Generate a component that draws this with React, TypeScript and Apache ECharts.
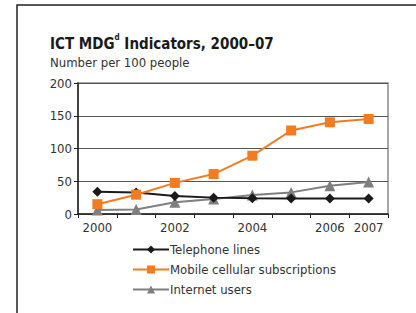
import React, { useEffect, useRef } from "react";
import * as echarts from "echarts";

const years = ["2000", "2001", "2002", "2003", "2004", "2005", "2006", "2007"];
const shownYears = ["2000", "2002", "2004", "2006", "2007"];
const telephone = [34, 33, 27.5, 25, 24, 23.5, 23.5, 23.5];
const mobile = [15, 29.5, 47.5, 61, 89, 127.5, 140, 145];
const internet = [6, 7, 18, 23, 29, 33, 43, 49];
const yTicks = [0, 50, 100, 150, 200];

const FONT = "'Liberation Sans Narrow', 'DejaVu Sans Condensed', 'Roboto Condensed', sans-serif";

export default function App() {
  const ref = useRef<HTMLDivElement>(null);
  useEffect(() => {
    if (!ref.current) return;
    const chart = echarts.init(ref.current, null, { renderer: "svg" });
    chart.setOption({
      animation: false,
      backgroundColor: "#fff",
      textStyle: { fontFamily: FONT },
      graphic: [
        {
          type: "rect",
          shape: { x: 17, y: 5, width: 405, height: 330 },
          style: { fill: "none", stroke: "#222", lineWidth: 1.5 },
          silent: true,
        },
        {
          type: "text",
          left: 50,
          top: 33,
          style: {
            text: "{b|ICT MDG}{s|d}{b| Indicators, 2000–07}",
            rich: {
              b: { fontFamily: FONT, fontWeight: "bold", fontSize: 15, fill: "#1a1a1a", verticalAlign: "bottom", lineHeight: 18 },
              s: { fontFamily: FONT, fontWeight: "bold", fontSize: 8, fill: "#1a1a1a", verticalAlign: "top", lineHeight: 18 },
            },
          },
        },
        {
          type: "text",
          left: 50,
          top: 56,
          style: { text: "Number per 100 people", fontFamily: FONT, fontSize: 13, fill: "#333" },
        },
      ],
      grid: {
        left: 78,
        top: 83,
        right: 28,
        bottom: 99,
        show: true,
        borderColor: "#8a8a8a",
        borderWidth: 1.5,
      },
      legend: {
        orient: "vertical",
        left: 127,
        top: 238,
        itemWidth: 36,
        itemHeight: 10,
        itemGap: 7,
        textStyle: { fontFamily: FONT, fontSize: 13, color: "#333", padding: [0, 0, 0, -4] },
        data: ["Telephone lines", "Mobile cellular subscriptions", "Internet users"],
      },
      xAxis: {
        type: "category",
        data: years,
        boundaryGap: true,
        axisLine: { lineStyle: { color: "#222", width: 1.5 } },
        axisTick: { show: true, length: 4, lineStyle: { color: "#222" } },
        axisLabel: {
          fontFamily: FONT,
          fontSize: 13,
          color: "#333",
          margin: 7,
          interval: 0,
          formatter: (v: string) => (shownYears.includes(v) ? v : ""),
        },
      },
      yAxis: {
        type: "value",
        min: yTicks[0],
        max: yTicks[yTicks.length - 1],
        interval: 50,
        axisLine: { show: true, lineStyle: { color: "#222", width: 1.5 } },
        axisTick: { show: true, length: 4, lineStyle: { color: "#222" } },
        axisLabel: { fontFamily: FONT, fontSize: 13, color: "#333", margin: 6 },
        splitLine: { show: true, lineStyle: { color: "#555", width: 1.2 } },
      },
      series: [
        {
          name: "Telephone lines",
          type: "line",
          data: telephone,
          symbol: "diamond",
          symbolSize: 10,
          itemStyle: { color: "#1a1a1a" },
          lineStyle: { color: "#1a1a1a", width: 2 },
          z: 3,
        },
        {
          name: "Mobile cellular subscriptions",
          type: "line",
          data: mobile,
          symbol: "rect",
          symbolSize: 10,
          itemStyle: { color: "#f47b20" },
          lineStyle: { color: "#f47b20", width: 2 },
          z: 4,
        },
        {
          name: "Internet users",
          type: "line",
          data: internet,
          symbol: "triangle",
          symbolSize: 11,
          itemStyle: { color: "#7f7f7f" },
          lineStyle: { color: "#7f7f7f", width: 2 },
          z: 2,
        },
      ],
    });
    return () => chart.dispose();
  }, []);
  return <div ref={ref} style={{ width: 416, height: 313, position: "absolute", left: 0, top: 0 }} />;
}
